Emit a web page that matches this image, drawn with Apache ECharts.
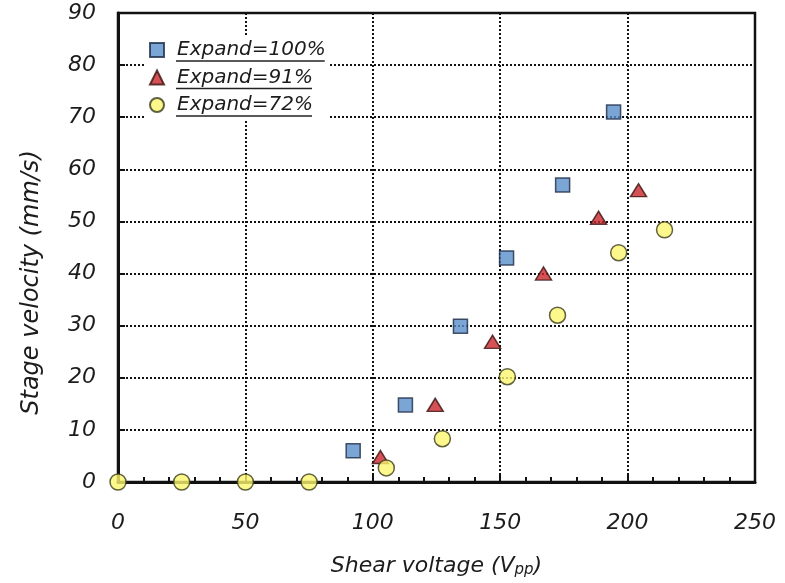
<!DOCTYPE html>
<html><head><meta charset="utf-8">
<script src="https://cdn.jsdelivr.net/npm/echarts@6/dist/echarts.min.js"></script>
<style>html,body{margin:0;padding:0;background:#fff}#c{width:785px;height:583px}</style>
</head><body><div id="c"></div>
<script>
// Stage velocity (mm/s) versus shear voltage (Vpp) for three expand ratios
const seriesNames = ['Expand=100%', 'Expand=91%', 'Expand=72%'];
const expand100 = [[92.3, 6.0], [112.8, 14.8], [134.4, 29.9], [152.5, 43.0], [174.5, 57.0], [194.5, 71.0]];
const expand91 = [[103.0, 4.8], [124.5, 14.8], [147.0, 26.9], [167.0, 40.0], [188.6, 50.7], [204.3, 56.0]];
const expand72 = [[0, 0], [25, 0], [50, 0], [75, 0], [105.3, 2.7], [127.3, 8.3], [152.8, 20.2], [172.5, 32.0], [196.5, 44.0], [214.5, 48.4]];
const xRange = [0, 250, 50];
const yRange = [0, 90, 10];

const FONT = '"DejaVu Sans", Verdana, sans-serif';
const LEG = { left: 145, top: 36, pad: 4, icon: 14, gap: 7.5, fontSize: 20, textPad: 8 };

const chart = echarts.init(document.getElementById('c'), null, { renderer: 'canvas' });

// width of legend labels, used for their underlines
const ctx = document.createElement('canvas').getContext('2d');
ctx.font = 'italic ' + LEG.fontSize + 'px ' + FONT;
const rowH = Math.max(LEG.icon, LEG.fontSize);
const underlines = seriesNames.map((n, i) => {
  const x0 = LEG.left + LEG.pad + LEG.icon + 5 + LEG.textPad;
  const y = LEG.top + LEG.pad + i * (rowH + LEG.gap) + rowH + 1;
  return {
    type: 'line', silent: true, z: 100,
    shape: { x1: x0, y1: y, x2: x0 + ctx.measureText(n).width, y2: y },
    style: { stroke: '#222', lineWidth: 1.6 }
  };
});

const scatterBase = { type: 'scatter', clip: false, z: 5 };

chart.setOption({
  animation: false,
  backgroundColor: '#fff',
  grid: { left: 118, right: 30, top: 13, bottom: 101, show: true, borderColor: '#111', borderWidth: 2.5, backgroundColor: 'transparent' },
  legend: {
    orient: 'vertical', left: LEG.left, top: LEG.top, padding: LEG.pad,
    itemWidth: LEG.icon, itemHeight: LEG.icon, itemGap: LEG.gap,
    backgroundColor: '#fff', z: 50,
    textStyle: { fontFamily: FONT, fontStyle: 'italic', fontSize: LEG.fontSize, lineHeight: LEG.fontSize, color: '#1c1c1c', padding: [0, 0, 0, LEG.textPad] },
    data: seriesNames
  },
  xAxis: {
    type: 'value', min: xRange[0], max: xRange[1], interval: xRange[2],
    axisLine: { show: true, lineStyle: { color: '#111', width: 3 } },
    axisTick: { show: true, inside: true, length: 7, lineStyle: { color: '#111', width: 2 } },
    minorTick: { show: true, splitNumber: 5, length: 5, lineStyle: { color: '#111', width: 2 } },
    splitLine: { show: true, lineStyle: { color: '#111', width: 2, type: [2, 2] } },
    axisLabel: { fontFamily: FONT, fontStyle: 'italic', fontSize: 22, color: '#1c1c1c', margin: 30 },
    name: 'Shear voltage (V{sub|pp})', nameLocation: 'middle', nameGap: 72,
    nameTextStyle: {
      fontFamily: FONT, fontStyle: 'italic', fontSize: 22, color: '#1c1c1c',
      rich: { sub: { fontFamily: FONT, fontStyle: 'italic', fontSize: 15, color: '#1c1c1c', padding: [9, 0, 0, 0] } }
    }
  },
  yAxis: {
    type: 'value', min: yRange[0], max: yRange[1], interval: yRange[2],
    axisLine: { show: true, lineStyle: { color: '#111', width: 3 } },
    axisTick: { show: true, inside: true, length: 7, lineStyle: { color: '#111', width: 2 } },
    splitLine: { show: true, lineStyle: { color: '#111', width: 2, type: [2, 2] } },
    axisLabel: { fontFamily: FONT, fontStyle: 'italic', fontSize: 22, color: '#1c1c1c', margin: 22 },
    name: 'Stage velocity (mm/s)', nameLocation: 'middle', nameGap: 74,
    nameTextStyle: { fontFamily: FONT, fontStyle: 'italic', fontSize: 24, color: '#1c1c1c', padding: [0, 0, 0, -70] }
  },
  series: [
    Object.assign({}, scatterBase, {
      name: seriesNames[0], data: expand100, symbol: 'rect', symbolSize: 14,
      itemStyle: { color: '#5a8fcb', borderColor: '#1d2b45', borderWidth: 1.5 }
    }),
    Object.assign({}, scatterBase, {
      name: seriesNames[1], data: expand91, symbol: 'triangle', symbolSize: [16, 13],
      itemStyle: { color: '#c9272c', borderColor: '#3a1010', borderWidth: 1.5 }
    }),
    Object.assign({}, scatterBase, {
      name: seriesNames[2], data: expand72, symbol: 'circle', symbolSize: 16,
      itemStyle: { color: '#fbf66e', borderColor: '#3a3a1a', borderWidth: 1.5 }
    })
  ],
  graphic: underlines
});
</script>
</body></html>
